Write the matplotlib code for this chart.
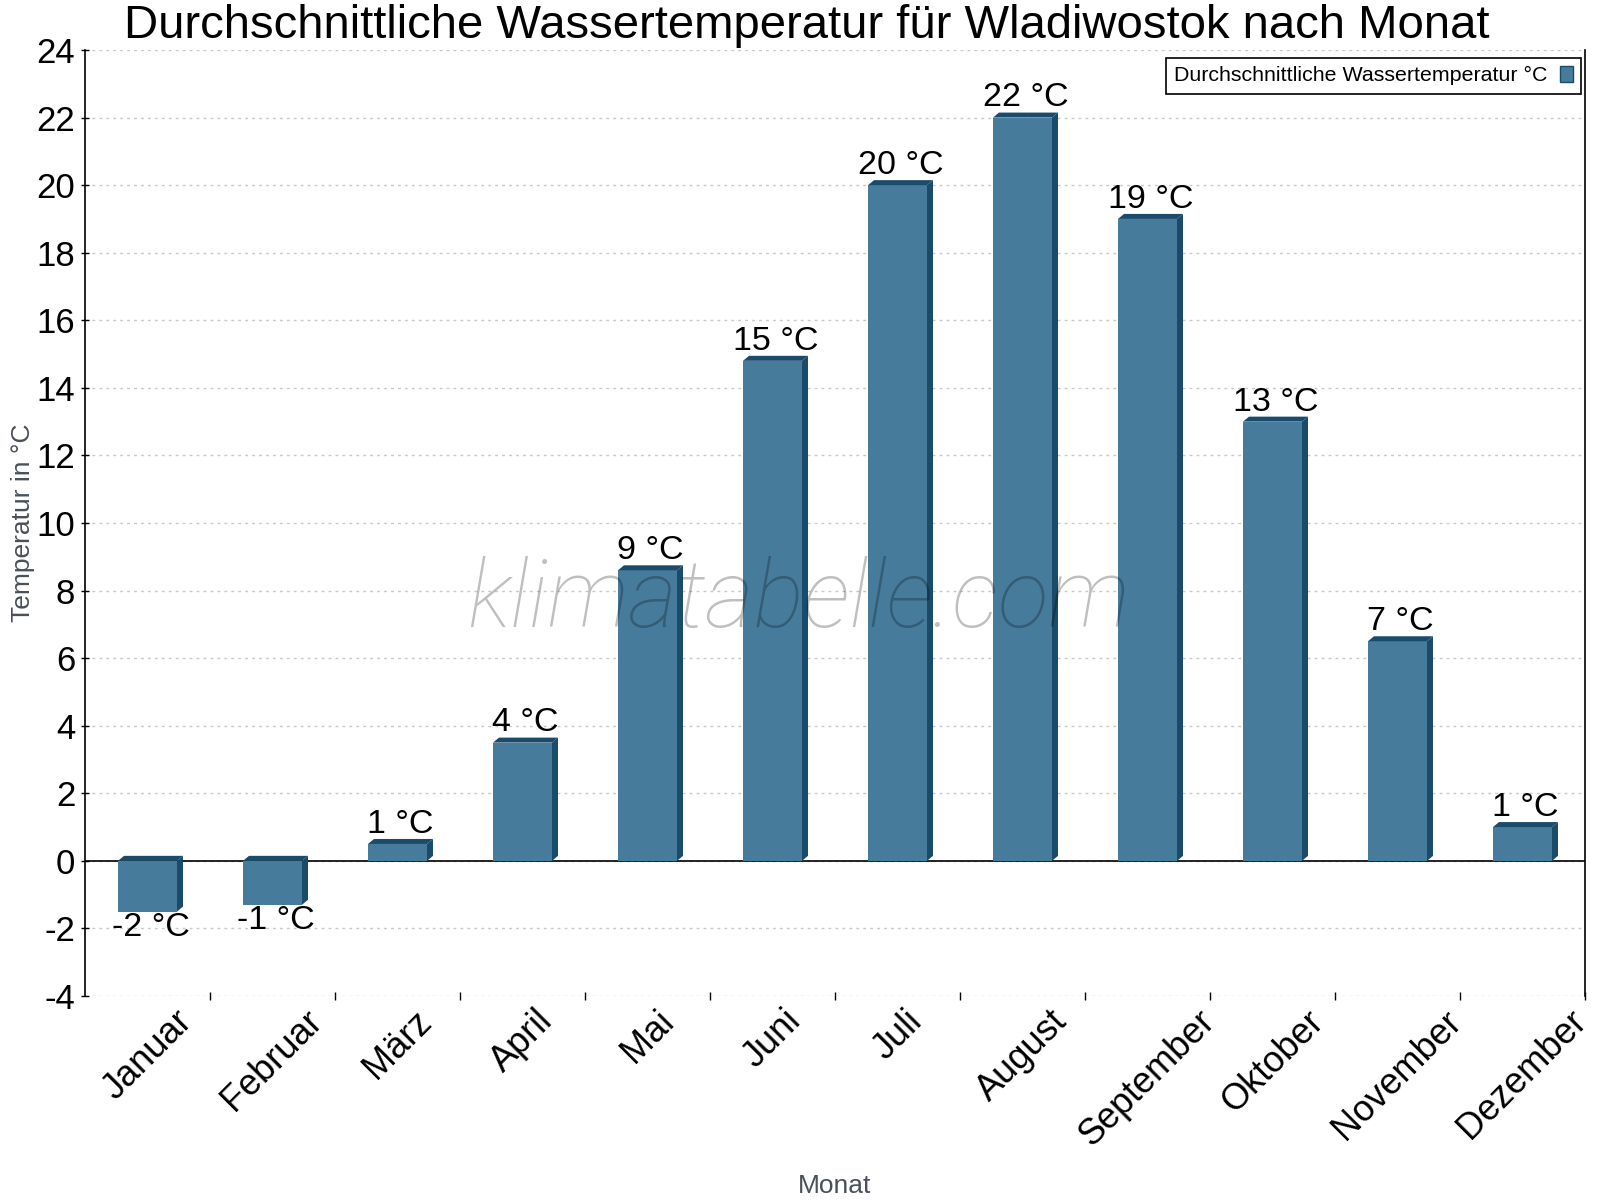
# Wassertemperatur Wladiwostok - Balken mit 3D-Effekt

import matplotlib
matplotlib.use('Agg')
import matplotlib.pyplot as plt
from matplotlib.patches import Polygon, Rectangle
import numpy as np

plt.rcParams['font.family'] = ['Liberation Sans', 'DejaVu Sans']
plt.rcParams['axes.unicode_minus'] = False

months = ['Januar', 'Februar', 'März', 'April', 'Mai', 'Juni', 'Juli',
          'August', 'September', 'Oktober', 'November', 'Dezember']
water_temp = [-1.5, -1.3, 0.5, 3.5, 8.6, 14.8, 20.0, 22.0, 19.0, 13.0, 6.5, 1.0]
temp_labels = ['-2 °C', '-1 °C', '1 °C', '4 °C', '9 °C', '15 °C', '20 °C',
               '22 °C', '19 °C', '13 °C', '7 °C', '1 °C']
yticks = list(range(-4, 25, 2))

face = '#467b9c'
side = '#1b4b6b'
gray_txt = '#4a5058'

fig = plt.figure(figsize=(16, 12), dpi=100)
ax = fig.add_axes([85/1600, 0.17, 1500/1600, 946/1200])

x = np.arange(len(months))
w = 0.472
dx = 0.048   # depth of the 3d side (x units)
dy = 0.148   # depth of the 3d top (y units)

ax.axhline(0, color='black', lw=1.2, zorder=2)
ax.bar(x, water_temp, width=w, color=face, zorder=3)
for xi, v, lbl in zip(x, water_temp, temp_labels):
    top = max(v, 0)
    bot = min(v, 0)
    x0 = xi - w/2
    x1 = xi + w/2
    ax.add_patch(Polygon([(x1, bot), (x1+dx, bot+dy), (x1+dx, top+dy), (x1, top)],
                         closed=True, facecolor=side, edgecolor='none', zorder=3))
    ax.add_patch(Polygon([(x0, top), (x0+dx, top+dy), (x1+dx, top+dy), (x1, top)],
                         closed=True, facecolor=side, edgecolor='none', zorder=3))
    if v >= 0:
        ax.annotate(lbl, (xi + dx/2, v), xytext=(0, 8), textcoords='offset points',
                    ha='center', va='baseline', fontsize=24.5, zorder=5)
    else:
        ax.annotate(lbl, (xi + dx/2, v), xytext=(0, 0), textcoords='offset points',
                    ha='center', va='top', fontsize=24.5, zorder=5)

ax.set_xlim(-0.5, 11.5)
ax.set_ylim(-4, 24)
ax.set_yticks(yticks)
ax.set_xticks(x)
ax.set_xticklabels(months, rotation=45, ha='center', fontsize=26)
ax.set_xticks(np.arange(0.5, 12, 1), minor=True)
ax.tick_params(axis='x', which='major', length=0, pad=5.5)
ax.tick_params(axis='x', which='minor', direction='inout', length=6, width=1)
ax.tick_params(axis='y', direction='inout', length=6, width=1, labelsize=25, pad=4)

ax.yaxis.grid(True, linestyle=(0, (2, 3)), color='#c8c8c8', lw=1)
ax.set_axisbelow(True)
ax.spines['top'].set_visible(False)
ax.spines['bottom'].set_visible(False)
ax.spines['left'].set_linewidth(1.2)
ax.spines['right'].set_linewidth(1.2)

ax.set_ylabel('Temperatur in °C', fontsize=19, color=gray_txt)
ax.yaxis.set_label_coords(-0.033, 0.5)
ax.set_xlabel('Monat', fontsize=19, color=gray_txt)
ax.xaxis.set_label_coords(0.5, -0.188)

fig.text(0.504, 1 - 38/1200, 'Durchschnittliche Wassertemperatur für Wladiwostok nach Monat',
         ha='center', va='baseline', fontsize=34)

ax.text(0.476, 0.39, 'klimatabelle.com', transform=ax.transAxes, ha='center', va='baseline',
        fontsize=67.5, style='italic', fontweight='light', family=['Roboto', 'Liberation Sans'],
        color='black', alpha=0.25, zorder=10)

handle = Rectangle((0, 0), 1, 1, facecolor=face, edgecolor=side, lw=1)
leg = ax.legend([handle], ['Durchschnittliche Wassertemperatur °C'], loc='upper right',
                bbox_to_anchor=(1581/1600, 1 - 58/1200), bbox_transform=fig.transFigure,
                markerfirst=False, fontsize=15.4, handlelength=0.6, handleheight=0.75,
                handletextpad=0.6, borderpad=0.38, borderaxespad=0, fancybox=False,
                framealpha=1, edgecolor='black')
leg.get_frame().set_linewidth(1.2)

fig.savefig('out.png', dpi=100)
